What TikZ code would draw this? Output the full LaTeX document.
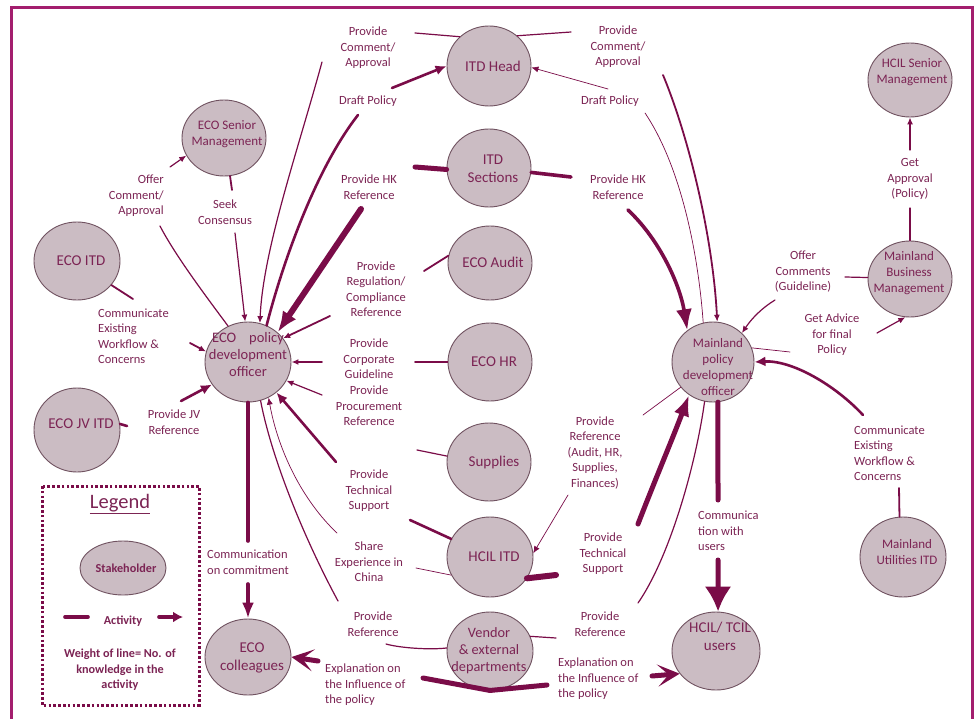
\documentclass[tikz,border=0pt]{standalone}
\usepackage{fontspec}
\setmainfont{Carlito}
\usetikzlibrary{shapes.geometric,arrows.meta}

\definecolor{framec}{RGB}{163,30,110}
\definecolor{linec}{RGB}{122,12,72}
\definecolor{txtc}{RGB}{124,36,84}
\definecolor{fillc}{RGB}{203,188,195}
\definecolor{edgec}{RGB}{112,82,96}

\begin{document}
\begin{tikzpicture}[x=1pt,y=-1pt,
  stake/.style={ellipse, draw=edgec, fill=fillc, line width=0.9pt, inner sep=0pt},
  bigtxt/.style={text=txtc, align=center, inner sep=0pt, font=\fontsize{15}{18}\selectfont},
  midtxt/.style={text=txtc, align=center, inner sep=0pt, font=\fontsize{14.3}{17}\selectfont},
  smalltxt/.style={text=txtc, align=center, inner sep=0pt, font=\fontsize{13}{16}\selectfont},
  lbl/.style={text=txtc, align=center, inner sep=0pt, font=\fontsize{12.5}{15.5}\selectfont},
  legtxt/.style={text=txtc, align=center, inner sep=0pt, font=\bfseries\fontsize{12.2}{15.5}\selectfont},
  link/.style={draw=linec, line cap=round},
  wa/.style={link, line width=0.7pt},
  wb/.style={link, line width=1.2pt},
  wc/.style={link, line width=1.8pt},
  wd/.style={link, line width=2.6pt},
  we/.style={link, line width=3.6pt},
  wf/.style={link, line width=5pt},
  wg/.style={link, line width=6pt},
  arr/.style={-{Latex[length=7pt,width=6pt]}},
  arrm/.style={-{Latex[length=11pt,width=10pt]}},
  arrl/.style={-{Latex[length=16pt,width=12pt]}},
  arrb/.style={-{Latex[length=21pt,width=16pt]}},
  arrx/.style={-{Latex[length=25pt,width=27pt]}},
  fork/.style={-{Stealth[length=22pt,width=22pt,inset=11pt]}}
]
\useasboundingbox (0,0) rectangle (976,719);
\fill[white] (0,0) rectangle (976,719);

% outer frame, open at the bottom of the page
\draw[framec, line width=3pt] (11,760) -- (11,8) -- (972,8) -- (972,760);

% ---------- stakeholders ----------
\node[stake, minimum width=84pt, minimum height=80pt] (itdhead) at (489,66) {};
\node[bigtxt] (t-itdhead) at (493,66) {ITD Head};
\node[stake, minimum width=84pt, minimum height=78pt] (itdsec) at (489,168) {};
\node[bigtxt] (t-itdsec) at (493,169) {ITD\\Sections};
\node[stake, minimum width=84pt, minimum height=74pt] (ecoaudit) at (490,263) {};
\node[bigtxt] (t-ecoaudit) at (493,262) {ECO Audit};
\node[stake, minimum width=84pt, minimum height=78pt] (ecohr) at (490,362) {};
\node[bigtxt] (t-ecohr) at (494,362) {ECO HR};
\node[stake, minimum width=84pt, minimum height=78pt] (supplies) at (489,462) {};
\node[bigtxt] (t-supplies) at (494,462) {Supplies};
\node[stake, minimum width=86pt, minimum height=80pt] (hcilitd) at (490,557) {};
\node[bigtxt] (t-hcilitd) at (494,557) {HCIL ITD};
\node[stake, minimum width=86pt, minimum height=78pt] (vendor) at (490,651) {};
\node[midtxt] (t-vendor) at (489,651) {Vendor\\\& external\\departments};
\node[stake, minimum width=88pt, minimum height=78pt] (users) at (716,651) {};
\node[bigtxt] (t-users) at (720,636) {HCIL/ TCIL\\users};

\node[stake, minimum width=82pt, minimum height=80pt] (mainland) at (713,362) {};
\node[smalltxt] (t-mainland) at (718,367) {Mainland\\policy\\development\\officer};
\node[stake, minimum width=84pt, minimum height=76pt] (mbm) at (910,279) {};
\node[smalltxt] (t-mbm) at (909,273) {Mainland\\Business\\Management};
\node[stake, minimum width=84pt, minimum height=74pt] (hcilsen) at (910,80) {};
\node[smalltxt] (t-hcilsen) at (912,72) {HCIL Senior\\Management};
\node[stake, minimum width=86pt, minimum height=80pt] (muitd) at (903,557) {};
\node[smalltxt] (t-muitd) at (907,552) {Mainland\\Utilities ITD};

\node[stake, minimum width=84pt, minimum height=76pt] (ecosen) at (224,138) {};
\node[smalltxt] (t-ecosen) at (227,134) {ECO Senior\\Management};
\node[stake, minimum width=86pt, minimum height=78pt] (ecoitd) at (77,261) {};
\node[bigtxt] (t-ecoitd) at (81,261) {ECO ITD};
\node[stake, minimum width=86pt, minimum height=80pt] (ecopol) at (248,362) {};
\node[text=txtc, align=center, inner sep=0pt, font=\fontsize{14.5}{17}\selectfont] (t-ecopol) at (248,355) {ECO\hspace{13pt}policy\\development\\officer};
\node[stake, minimum width=86pt, minimum height=84pt] (ecojv) at (77,430) {};
\node[bigtxt] (t-ecojv) at (81,424) {ECO JV ITD};
\node[stake, minimum width=86pt, minimum height=76pt] (ecocol) at (248,657) {};
\node[bigtxt] (t-ecocol) at (252,658) {ECO\\colleagues};

% ---------- activity labels ----------
\node[lbl] (l-pca-l) at (368,48) {Provide\\Comment/\\Approval};
\node[lbl] (l-dp-l) at (368,101) {Draft Policy};
\node[lbl] (l-hk-l) at (369,187) {Provide HK\\Reference};
\node[lbl] (l-reg) at (376,289) {Provide\\Regulation/\\Compliance\\Reference};
\node[lbl] (l-corp) at (369,359) {Provide\\Corporate\\Guideline};
\node[lbl] (l-proc) at (369,406) {Provide\\Procurement\\Reference};
\node[lbl] (l-tech-l) at (369,491) {Provide\\Technical\\Support};
\node[lbl] (l-share) at (369,562) {Share\\Experience in\\China};
\node[lbl] (l-ref-l) at (373,624) {Provide\\Reference};
\node[lbl, align=left, anchor=west] (l-exp-l) at (325,685) {Explanation on\\the Influence of\\the policy};
\node[lbl] (l-pca-r) at (618,47) {Provide\\Comment/\\Approval};
\node[lbl] (l-dp-r) at (610,101) {Draft Policy};
\node[lbl] (l-hk-r) at (618,187) {Provide HK\\Reference};
\node[lbl] (l-appr) at (910,179) {Get\\Approval\\(Policy)};
\node[lbl] (l-ofc) at (803,272) {Offer\\Comments\\(Guideline)};
\node[lbl] (l-adv) at (832,335) {Get Advice\\for final\\Policy};
\node[lbl, align=left, anchor=west] (l-comm-r) at (854,453) {Communicate\\Existing\\Workflow \&\\Concerns};
\node[lbl] (l-refa) at (595,453) {Provide\\Reference\\(Audit, HR,\\Supplies,\\Finances)};
\node[lbl] (l-tech-r) at (603,554) {Provide\\Technical\\Support};
\node[lbl] (l-ref-r) at (600,624) {Provide\\Reference};
\node[lbl, align=left, anchor=west] (l-exp-r) at (558,679) {Explanation on\\the Influence of\\the policy};
\node[lbl, align=left, anchor=west] (l-cwu) at (698,531) {Communica\\tion with\\users};
\node[lbl, align=left, anchor=west] (l-coc) at (207,562) {Communication\\on commitment};
\node[lbl, align=right, anchor=east] (l-oca) at (164,196) {Offer\\Comment/\\Approval};
\node[lbl] (l-seek) at (225,212) {Seek\\Consensus};
\node[lbl, align=left, anchor=west] (l-comm-l) at (98,336) {Communicate\\Existing\\Workflow \&\\Concerns};
\node[lbl] (l-jv) at (174,422) {Provide JV\\Reference};

% ---------- free ends of the connectors ----------
\coordinate (p1a) at (415,33);   \coordinate (p1b) at (322,62);
\coordinate (p2a) at (358,115);  \coordinate (p2b) at (392,88);
\coordinate (p3a) at (415,167);  \coordinate (p3b) at (361,209);
\coordinate (p4a) at (424,271);  \coordinate (p4b) at (330,316);
\coordinate (p5a) at (415,362);  \coordinate (p5b) at (322,362);
\coordinate (p6a) at (417,450);  \coordinate (p6b) at (322,395);
\coordinate (p7a) at (410,520);  \coordinate (p7b) at (336,462);
\coordinate (p8a) at (416,568);  \coordinate (p8b) at (337,533);
\coordinate (p9a) at (386,644);  \coordinate (p9b) at (338,601);
\coordinate (p10a) at (423,678); \coordinate (p10b) at (318,661);
\coordinate (p11a) at (547,685); \coordinate (p11b) at (652,676);
\coordinate (p12a) at (248,541); \coordinate (p12b) at (248,584);
\coordinate (p13a) at (232,190); \coordinate (p13b) at (235,233);
\coordinate (p14a) at (160,226); \coordinate (p14b) at (170,167);
\coordinate (p15a) at (133,299); \coordinate (p15b) at (190,343);
\coordinate (p16a) at (127,426); \coordinate (p16b) at (181,401);
\coordinate (p17a) at (571,32);  \coordinate (p17b) at (663,75);
\coordinate (p18a) at (645,113); \coordinate (p18b) at (608,89);
\coordinate (p19a) at (571,177); \coordinate (p19b) at (628,210);
\coordinate (p20a) at (845,277); \coordinate (p20b) at (775,300);
\coordinate (p21a) at (790,352); \coordinate (p21b) at (877,333);
\coordinate (p22a) at (910,208); \coordinate (p22b) at (910,150);
\coordinate (p23a) at (899,488); \coordinate (p23b) at (863,415);
\coordinate (p24a) at (643,415); \coordinate (p24b) at (568,495);
\coordinate (p25a) at (556,575); \coordinate (p25b) at (638,524);
\coordinate (p26a) at (556,638); \coordinate (p26b) at (638,603);
\coordinate (p27a) at (718,500); \coordinate (p27b) at (718,560);

% ---------- activities towards the ECO policy development officer ----------
% comment / approval from ITD Head
\draw[wb] (itdhead.135) -- (p1a);
\draw[wb, arr] (p1b) .. controls (298,150) and (263,250) .. (ecopol.73);
% draft policy to ITD Head
\draw[wd] (ecopol.63) .. controls (282,265) and (315,170) .. (p2a);
\draw[wd, arrm] (p2b) -- (itdhead.180);
% HK reference from ITD Sections
\draw[wf] (itdsec.182) -- (p3a);
\draw[wg, arrb] (p3b) -- (ecopol.45);
% regulation / compliance reference
\draw[wc] (ecoaudit.170) -- (p4a);
\draw[wc, arr] (p4b) -- (ecopol.34);
% corporate guideline
\draw[wc] (ecohr.180) -- (p5a);
\draw[wc, arr] (p5b) -- (ecopol.0);
% procurement reference
\draw[wb] (supplies.172) -- (p6a);
\draw[wb, arr] (p6b) -- (ecopol.-26);
% technical support
\draw[wd] (hcilitd.155) -- (p7a);
\draw[wd, arrm] (p7b) -- (ecopol.-47);
% experience in China
\draw[wa] (hcilitd.205) -- (p8a);
\draw[wa, arr] (p8b) .. controls (302,500) and (278,450) .. (ecopol.-60);
% reference from vendors
\draw[wb] (vendor.176) .. controls (430,650) and (400,648) .. (p9a);
\draw[wb] (p9b) .. controls (305,540) and (272,460) .. (ecopol.-72);
% influence of the policy, to ECO colleagues and to the users
\draw[wf] (vendor.-90) -- (p10a);
\draw[wf, fork] (p10b) -- (ecocol.0);
\draw[wf] (vendor.-90) -- (p11a);
\draw[wf, fork] (p11b) -- (users.212);
% communication on commitment
\draw[we] (ecopol.-90) -- (p12a);
\draw[we, arrl] (p12b) -- (ecocol.90);
% seek consensus
\draw[wc] (ecosen.-81) -- (p13a);
\draw[wb, arr] (p13b) -- (ecopol.94);
% offer comment / approval to ECO senior management
\draw[wb] (ecopol.119) .. controls (205,295) and (175,255) .. (p14a);
\draw[wb, arr] (p14b) -- (ecosen.205);
% existing workflow from ECO ITD
\draw[wc] (ecoitd.-35) -- (p15a);
\draw[wc, arr] (p15b) -- (ecopol.166);
% JV reference
\draw[wd] (ecojv.8) -- (p16a);
\draw[wd, arrm] (p16b) -- (ecopol.212);

% ---------- activities around the Mainland policy development officer ----------
\draw[wb] (itdhead.47) -- (p17a);
\draw[wc, arr] (p17b) .. controls (690,140) and (713,240) .. (mainland.84);
\draw[wa] (mainland.104) .. controls (698,250) and (680,165) .. (p18a);
\draw[wa, arr] (p18b) -- (itdhead.-2);
\draw[we] (itdsec.-6) -- (p19a);
\draw[we, arrb] (p19b) .. controls (660,240) and (680,285) .. (mainland.129);
\draw[wb] (mbm.178) -- (p20a);
\draw[wb, arr] (p20b) .. controls (762,308) and (752,318) .. (mainland.45);
\draw[wa] (mainland.20) -- (p21a);
\draw[wb, arr] (p21b) -- (mbm.-97);
\draw[wb] (mbm.90) -- (p22a);
\draw[wb, arr] (p22b) -- (hcilsen.-90);
\draw[wc] (muitd.95) -- (p23a);
\draw[wd, arrm] (p23b) .. controls (835,385) and (792,360) .. (mainland.0);
\draw[wa] (mainland.218) -- (p24a);
\draw[wa, arr] (p24b) -- (hcilitd.5);
\draw[wg] (hcilitd.-30) -- (p25a);
\draw[wf, arrb] (p25b) .. controls (655,480) and (672,440) .. (mainland.-126);
\draw[wb] (vendor.20) -- (p26a);
\draw[wb] (p26b) .. controls (668,560) and (695,470) .. (mainland.-102);
\draw[wf] (mainland.-83) -- (p27a);
\draw[wf, arrx] (p27b) -- (users.87);

% ---------- legend ----------
\draw[linec, line width=3pt, dash pattern=on 2.6pt off 2.2pt] (42,486) rectangle (199,705);
\node[text=txtc, inner sep=0pt, font=\fontsize{20.5}{24}\selectfont] (leg-title) at (120,504) {\underline{Legend}};
\node[stake, minimum width=86pt, minimum height=54pt] (leg-stake) at (123,568) {};
\node[legtxt] (leg-stake-t) at (126,568) {Stakeholder};
\node[legtxt] (leg-act) at (123,621) {Activity};
\coordinate (la1) at (65,617); \coordinate (la2) at (88,617);
\coordinate (la3) at (159,617); \coordinate (la4) at (183,617);
\draw[we] (la1) -- (la2);
\draw[we, -{Latex[length=10pt,width=11pt]}] (la3) -- (la4);
\node[legtxt] (leg-weight) at (120,670) {Weight of line= No. of\\knowledge in the\\activity};
\end{tikzpicture}
\end{document}
